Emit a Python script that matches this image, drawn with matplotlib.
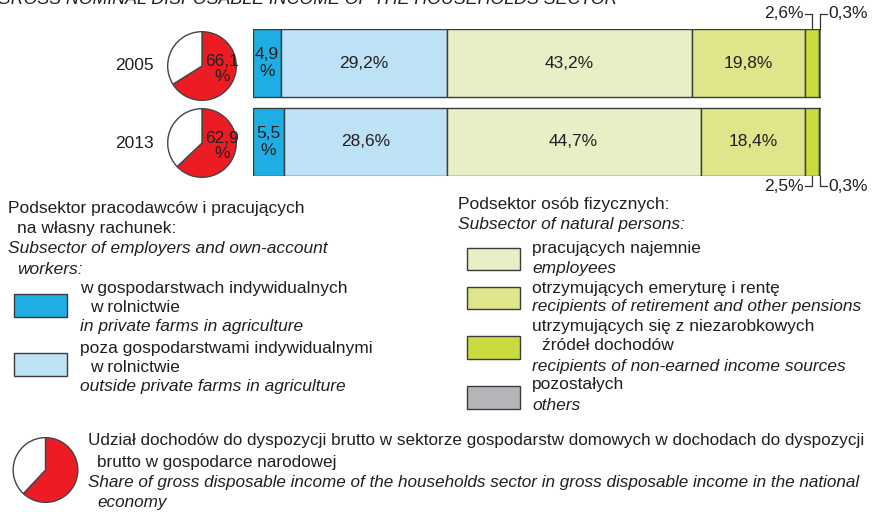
import matplotlib
matplotlib.use("Agg")
import matplotlib.pyplot as plt
from matplotlib.patches import Rectangle
import numpy as np

plt.rcParams['font.family'] = ['Liberation Sans', 'DejaVu Sans']

# ---- data ----
years = ["2005", "2013"]
seg_names = ["farms", "outside_farms", "employees", "pensions", "non_earned", "others"]
values_2005 = [4.9, 29.2, 43.2, 19.8, 2.6, 0.3]
values_2013 = [5.5, 28.6, 44.7, 18.4, 2.5, 0.3]
pie_share = [66.1, 62.9]
seg_colors = ["#1eaee4", "#bde2f6", "#e6efc6", "#dfe58a", "#c9db3f", "#9a9a9c"]
legend_box_colors = ["#1eaee4", "#bde2f6", "#e6efc6", "#dfe58a", "#c9db3f", "#b4b5b8"]
pie_red = "#ed1c24"

def fmt(v):
    return f"{v:.1f}".replace(".", ",")

W, H = 877, 512
fig = plt.figure(figsize=(W / 100, H / 100), dpi=100)

def px_axes(x0, y0, x1, y1, **kw):
    return fig.add_axes([x0 / W, 1 - y1 / H, (x1 - x0) / W, (y1 - y0) / H], **kw)

# overlay for text/legend
ov = px_axes(0, 0, W, H)
ov.set_xlim(0, W)
ov.set_ylim(H, 0)
ov.axis("off")

FS = 12.5
TC = "#231f20"
EDGE = "#3c3c3c"

# ---- bars ----
bh = 0.866
ax = px_axes(253, 29, 821, 176)
ax.set_xlim(0, 100)
ax.set_ylim(1 + bh / 2, -bh / 2)
ax.axis("off")
all_vals = [values_2005, values_2013]
for i, vals in enumerate(all_vals):
    left = 0.0
    for j, v in enumerate(vals):
        ax.barh(i, v, left=left, height=bh, color=seg_colors[j], edgecolor=EDGE, linewidth=1.0)
        cx = left + v / 2
        if j == 0:
            ax.text(cx, i, fmt(v) + "\n%", ha="center", va="center", fontsize=FS, color=TC, linespacing=1.15)
        elif j in (1, 2, 3):
            ax.text(cx, i, fmt(v) + "%", ha="center", va="center", fontsize=FS, color=TC)
        left += v

# leader labels for small segments
unit_px = 78.5  # pixels per y-unit
def ypx(dpx):
    return dpx / unit_px
xunit = 568 / 100.0
for i, vals in enumerate(all_vals):
    cum = np.cumsum([0] + vals)
    c_green = cum[4] + vals[4] / 2
    c_other = cum[5] + vals[5] / 2
    if i == 0:
        edge = -bh / 2
        yl = edge - ypx(15)
    else:
        edge = 1 + bh / 2
        yl = edge + ypx(10)
    ax.plot([c_green, c_green, c_green - 7 / xunit], [edge, yl, yl], color="#333", lw=0.9, clip_on=False)
    ax.plot([c_other, c_other, c_other + 7 / xunit], [edge, yl, yl], color="#333", lw=0.9, clip_on=False)
    ax.text(c_green - 8 / xunit, yl, fmt(vals[4]) + "%", ha="right", va="center", fontsize=FS, color=TC)
    ax.text(c_other + 8 / xunit, yl, fmt(vals[5]) + "%", ha="left", va="center", fontsize=FS, color=TC)

# ---- pies ----
pie_centers = [66, 143]
year_y = [65, 143]
for k, (cy, share) in enumerate(zip(pie_centers, pie_share)):
    pa = px_axes(167, cy - 35, 237, cy + 35)
    pa.pie([share, 100 - share], colors=[pie_red, "white"], startangle=90, counterclock=False,
           wedgeprops=dict(edgecolor="#444", linewidth=1.0))
    pa.set_xlim(-1.02, 1.02)
    pa.set_ylim(-1.02, 1.02)
    pa.set_aspect("equal")
    pa.text(0.58, -0.1, fmt(share) + "\n%", ha="center", va="center", fontsize=FS, color=TC, linespacing=1.0)
    ov.text(154, year_y[k], years[k], ha="right", va="center", fontsize=FS, color=TC)

# ---- title (cut off at top) ----
ov.text(-3, 4, "GROSS NOMINAL DISPOSABLE INCOME OF THE HOUSEHOLDS SECTOR", ha="left", va="baseline",
        fontsize=12.8, style="italic", color=TC)

# ---- left legend ----
def t(x, y, s, it=False, fs=FS):
    ov.text(x, y, s, ha="left", va="center", fontsize=fs, color=TC, style="italic" if it else "normal")

t(8, 209, "Podsektor pracodawców i pracujących")
t(17, 229, "na własny rachunek:")
t(8, 249, "Subsector of employers and own-account", True)
t(17, 269, "workers:", True)

def box(x0, y0, x1, y1, c):
    ov.add_patch(Rectangle((x0, y0), x1 - x0, y1 - y0, facecolor=c, edgecolor=EDGE, linewidth=1.0))

box(14, 294, 67, 317, legend_box_colors[0])
t(80, 289, "w gospodarstwach indywidualnych")
t(90, 308, "w rolnictwie")
t(80, 327, "in private farms in agriculture", True)
box(14, 353, 67, 376, legend_box_colors[1])
t(80, 349, "poza gospodarstwami indywidualnymi")
t(90, 368, "w rolnictwie")
t(80, 387, "outside private farms in agriculture", True)

# ---- right legend ----
t(458, 205, "Podsektor osób fizycznych:")
t(458, 225, "Subsector of natural persons:", True)
box(467, 248, 520, 270, legend_box_colors[2])
t(532, 249, "pracujących najemnie")
t(532, 268, "employees", True)
box(467, 287, 520, 309, legend_box_colors[3])
t(532, 288, "otrzymujących emeryturę i rentę")
t(532, 307, "recipients of retirement and other pensions", True)
box(467, 336, 520, 359, legend_box_colors[4])
t(532, 327, "utrzymujących się z niezarobkowych")
t(542, 346, "źródeł dochodów")
t(532, 366, "recipients of non-earned income sources", True)
box(467, 386, 520, 409, legend_box_colors[5])
t(532, 385, "pozostałych")
t(532, 405, "others", True)

# ---- bottom legend ----
lp = px_axes(12, 437, 79, 503)
lp.pie([62, 38], colors=[pie_red, "white"], startangle=90, counterclock=False,
       wedgeprops=dict(edgecolor="#444", linewidth=1.0))
lp.set_xlim(-1.02, 1.02)
lp.set_ylim(-1.02, 1.02)
BFS = 12.35
t(88, 441, "Udział dochodów do dyspozycji brutto w sektorze gospodarstw domowych w dochodach do dyspozycji", fs=BFS)
t(97, 462, "brutto w gospodarce narodowej", fs=BFS)
t(88, 483, "Share of gross disposable income of the households sector in gross disposable income in the national", True, fs=BFS)
t(97, 503, "economy", True, fs=BFS)

fig.savefig("out.png", dpi=100)
